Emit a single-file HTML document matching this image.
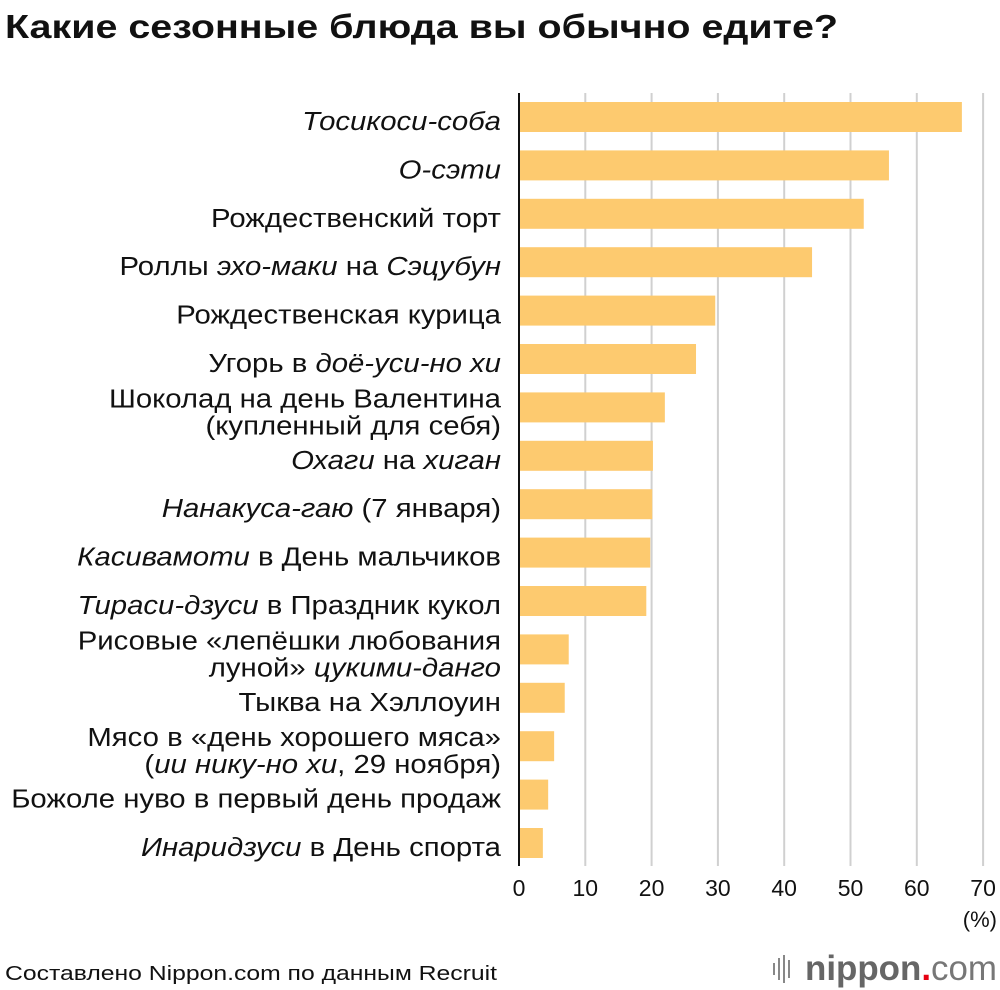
<!DOCTYPE html>
<html><head><meta charset="utf-8"><style>
body{margin:0;background:#fff;}
svg{display:block;font-family:"Liberation Sans","DejaVu Sans",sans-serif;}
</style></head><body>
<svg id="chart" width="1000" height="990" viewBox="0 0 1000 990">
<text x="5" y="38" font-size="33" font-weight="bold" fill="#111" textLength="833" lengthAdjust="spacingAndGlyphs">Какие сезонные блюда вы обычно едите?</text>
<g id="grid"></g><g id="bars"></g><g id="labels" transform="translate(501,0) scale(1.15,1) translate(-501,0)"></g><g id="ticks"></g>
<line x1="519" y1="93" x2="519" y2="866" stroke="#111" stroke-width="2"/>
<text x="997" y="927" font-size="22" text-anchor="end" fill="#111">(%)</text>
<text x="5" y="980" font-size="20" fill="#111" textLength="492" lengthAdjust="spacingAndGlyphs">Составлено Nippon.com по данным Recruit</text>
<g>
<g stroke="#888" stroke-width="2"><line x1="774" y1="963" x2="774" y2="975"/><line x1="779" y1="958" x2="779" y2="980"/><line x1="784" y1="955" x2="784" y2="983"/><line x1="789" y1="960" x2="789" y2="978"/></g>
<text x="805" y="980" font-size="35" font-weight="bold" fill="#666" textLength="192" lengthAdjust="spacingAndGlyphs">nippon<tspan fill="#e60012">.</tspan><tspan font-weight="normal" fill="#777">com</tspan></text>
</g>
</svg>
<script>
const categories=[
["<i>Тосикоси-соба</i>"],["<i>О-сэти</i>"],["Рождественский торт"],["Роллы <i>эхо-маки</i> на <i>Сэцубун</i>"],["Рождественская курица"],["Угорь в <i>доё-уси-но хи</i>"],["Шоколад на день Валентина","(купленный для себя)"],["<i>Охаги</i> на <i>хиган</i>"],["<i>Нанакуса-гаю</i> (7 января)"],["<i>Касивамоти</i> в День мальчиков"],["<i>Тираси-дзуси</i> в Праздник кукол"],["Рисовые «лепёшки любования","луной» <i>цукими-данго</i>"],["Тыква на Хэллоуин"],["Мясо в «день хорошего мяса»","(<i>ии нику-но хи</i>, 29 ноября)"],["Божоле нуво в первый день продаж"],["<i>Инаридзуси</i> в День спорта"]];
const values=[66.8,55.8,52.0,44.2,29.6,26.7,22.0,20.2,20.1,19.8,19.2,7.5,6.9,5.3,4.4,3.6];
const tickValues=[0,10,20,30,40,50,60,70];
const NS="http://www.w3.org/2000/svg";
const x0=519,pxPer=6.63,y0=117,pitch=48.4,bh=30;
const xs=v=>x0+v*pxPer, ys=i=>y0+i*pitch;
function fmt(s){return s.replace(/<i>/g,'<tspan font-style="italic">').replace(/<\/i>/g,'</tspan>');}
const grid=document.getElementById('grid'),bars=document.getElementById('bars'),labels=document.getElementById('labels'),ticks=document.getElementById('ticks');
tickValues.forEach(t=>{
 if(t>0){const l=document.createElementNS(NS,'line');
 l.setAttribute('x1',xs(t));l.setAttribute('x2',xs(t));l.setAttribute('y1',93);l.setAttribute('y2',866);
 l.setAttribute('stroke','#d0d0d0');l.setAttribute('stroke-width','2');
 
 
 grid.appendChild(l);}
 const tx=document.createElementNS(NS,'text');
 tx.setAttribute('x',xs(t));tx.setAttribute('y',896);tx.setAttribute('font-size','23');tx.setAttribute('text-anchor','middle');tx.setAttribute('fill','#111');
 tx.textContent=t;
 
 
 ticks.appendChild(tx);
});
values.forEach((v,i)=>{
 const r=document.createElementNS(NS,'rect');
 r.setAttribute('x',x0+1);r.setAttribute('y',ys(i)-bh/2);r.setAttribute('width',Math.max(0,xs(v)-x0-1));r.setAttribute('height',bh);r.setAttribute('fill','#fdca6f');
 
 
 bars.appendChild(r);
 const lines=categories[i];
 const t=document.createElementNS(NS,'text');
 t.setAttribute('text-anchor','end');t.setAttribute('font-size','25.5');t.setAttribute('fill','#111');
 
 
 let html='';
 lines.forEach((ln,j)=>{
   const y=ys(i)+13+(lines.length===2?(j===0?-13:14):0);
   html+='<tspan x="501" y="'+y+'">'+fmt(ln)+'</tspan>';
 });
 t.innerHTML=html;
 labels.appendChild(t);
});
</script>
</body></html>
